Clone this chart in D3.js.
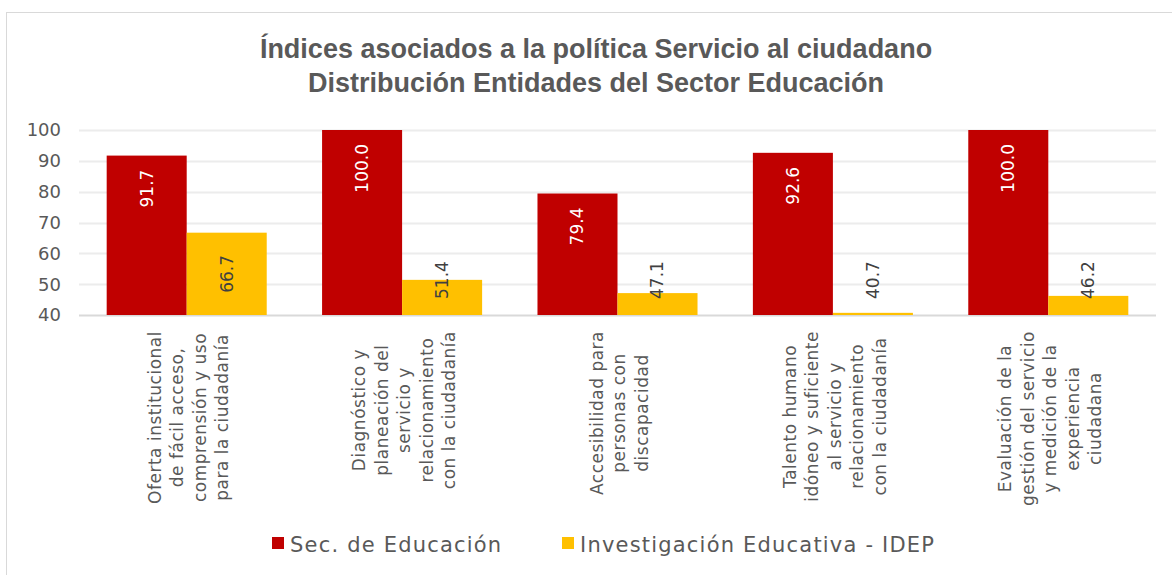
<!DOCTYPE html>
<html>
<head>
<meta charset="utf-8">
<script src="https://cdn.jsdelivr.net/npm/d3@7"></script>
<style>
  body { margin: 0; background: #fff; }
  text { font-family: "DejaVu Sans", sans-serif; }
</style>
</head>
<body>
<div id="chart"></div>
<script>
// data
var categories = [
  ["Oferta institucional", "de fácil acceso,", "comprensión y uso", "para la ciudadanía"],
  ["Diagnóstico y", "planeación del", "servicio y", "relacionamiento", "con la ciudadanía"],
  ["Accesibilidad para", "personas con", "discapacidad"],
  ["Talento humano", "idóneo y suficiente", "al servicio y", "relacionamiento", "con la ciudadanía"],
  ["Evaluación de la", "gestión del servicio", "y medición de la", "experiencia", "ciudadana"]
];
var seriesNames = ["Sec. de Educación", "Investigación Educativa - IDEP"];
var secEducacion = [91.7, 100.0, 79.4, 92.6, 100.0];
var idep = [66.7, 51.4, 47.1, 40.7, 46.2];
var yTicks = [40, 50, 60, 70, 80, 90, 100];
var colors = ["#C00000", "#FFC000"];

var W = 1172, H = 575;
var svg = d3.select("#chart").append("svg")
    .attr("width", W)
    .attr("height", H);

// chart border
svg.append("rect")
    .attr("x", 6.5).attr("y", 12.5)
    .attr("width", 1200).attr("height", 600)
    .attr("fill", "#fff")
    .attr("stroke", "#d9d9d9");

// title
var title = svg.append("text")
    .attr("text-anchor", "middle")
    .attr("fill", "#595959")
    .style("font-family", "'Liberation Sans Narrow', 'Liberation Sans', sans-serif")
    .style("font-weight", "bold")
    .style("font-size", "27px");
title.append("tspan").attr("x", 596).attr("y", 58)
    .text("Índices asociados a la política Servicio al ciudadano");
title.append("tspan").attr("x", 596).attr("y", 92)
    .text("Distribución Entidades del Sector Educación");

// scales
var x0 = d3.scaleBand()
    .domain(d3.range(categories.length))
    .range([79, 1156])
    .paddingInner(0.257)
    .paddingOuter(0.1285);
var x1 = d3.scaleBand()
    .domain([0, 1])
    .range([0, x0.bandwidth()]);
var y = d3.scaleLinear()
    .domain([40, 100])
    .range([315, 130]);

// gridlines
svg.append("g")
  .selectAll("line")
  .data(yTicks)
  .enter().append("line")
    .attr("x1", 79).attr("x2", 1156)
    .attr("y1", function(d) { return Math.round(y(d)) + 0.5; })
    .attr("y2", function(d) { return Math.round(y(d)) + 0.5; })
    .attr("stroke", function(d) { return d == 40 ? "#d9d9d9" : "#ececec"; })
    .attr("stroke-width", 2);

// y axis labels
svg.append("g")
  .selectAll("text")
  .data(yTicks)
  .enter().append("text")
    .attr("x", 61)
    .attr("y", function(d) { return y(d); })
    .attr("dy", "0.36em")
    .attr("text-anchor", "end")
    .attr("fill", "#595959")
    .style("font-size", "18px")
    .text(function(d) { return d; });

// bars
var values = [secEducacion, idep];
var groups = svg.append("g")
  .selectAll("g")
  .data(categories)
  .enter().append("g")
    .attr("transform", function(d, i) { return "translate(" + x0(i) + ",0)"; });

groups.selectAll("rect")
  .data(function(d, i) { return values.map(function(v, s) { return {s: s, v: v[i]}; }); })
  .enter().append("rect")
    .attr("x", function(d) { return x1(d.s); })
    .attr("y", function(d) { return y(d.v); })
    .attr("width", x1.bandwidth())
    .attr("height", function(d) { return y(40) - y(d.v); })
    .attr("fill", function(d) { return colors[d.s]; });

// value labels
groups.selectAll("text.val")
  .data(function(d, i) { return values.map(function(v, s) { return {s: s, v: v[i]}; }); })
  .enter().append("text")
    .attr("class", "val")
    .attr("fill", function(d) { return d.s == 0 ? "#fff" : "#404040"; })
    .style("font-size", "17px")
    .attr("dy", "0.35em")
    .attr("text-anchor", function(d) { return d.s == 0 ? "end" : "middle"; })
    .text(function(d) { return d.v.toFixed(1); })
    .attr("transform", function(d) {
      var cx = x1(d.s) + x1.bandwidth() / 2;
      var cy;
      if (d.s == 0) {
        cy = y(d.v) + 14;
      } else {
        var len = this.getComputedTextLength();
        var mid = (y(d.v) + y(40)) / 2;
        cy = Math.min(mid, 299 - len / 2);
      }
      return "translate(" + cx + "," + cy + ") rotate(-90)";
    });

// category labels, rotated
var lineGap = 22.5;
groups.each(function(lines, i) {
  var g = d3.select(this);
  var cx = x0.bandwidth() / 2;
  var t = g.append("text")
      .attr("fill", "#595959")
      .attr("text-anchor", "middle")
      .style("font-size", "17px")
      .style("letter-spacing", "0.5px");
  var spans = t.selectAll("tspan")
    .data(lines)
    .enter().append("tspan")
      .attr("x", 0)
      .attr("y", function(d, k) { return (k - (lines.length - 1) / 2) * lineGap; })
      .attr("dy", "0.35em")
      .text(function(d) { return d; });
  var maxLen = 0;
  spans.each(function() { maxLen = Math.max(maxLen, this.getComputedTextLength()); });
  t.attr("transform", "translate(" + (cx + 2) + "," + (331 + maxLen / 2) + ") rotate(-90)");
});

// legend
var legend = svg.append("g");
var lx = [272, 562];
seriesNames.forEach(function(name, s) {
  legend.append("rect")
    .attr("x", lx[s]).attr("y", 537)
    .attr("width", 12).attr("height", 12)
    .attr("fill", colors[s]);
  legend.append("text")
    .attr("x", lx[s] + 18).attr("y", 552)
    .attr("fill", "#595959")
    .style("font-size", "21px")
    .style("letter-spacing", "1.2px")
    .text(name);
});
</script>
</body>
</html>
